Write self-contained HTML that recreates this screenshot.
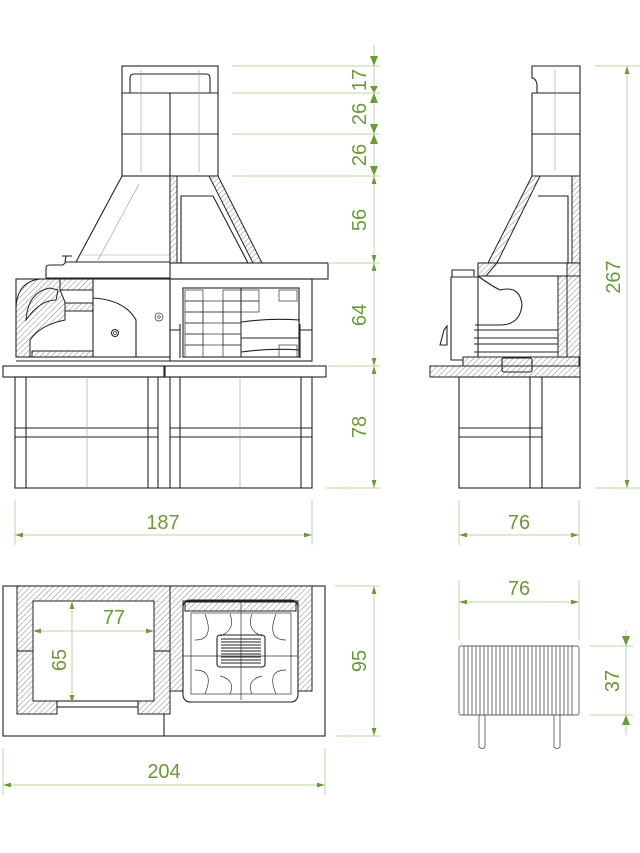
<!DOCTYPE html>
<html><head><meta charset="utf-8"><style>
html,body{margin:0;padding:0;background:#fff;}
svg{display:block;}
.k{fill:none;stroke:#222;stroke-width:1.1;}
.t{fill:none;stroke:#333;stroke-width:0.7;}
.g{fill:none;stroke:#999;stroke-width:0.6;}
.h{fill:url(#hatch);stroke:#222;stroke-width:1;}
.d{stroke:#bcd5a4;stroke-width:1;fill:none;}
.a{fill:#6a9a3a;}
text{font-family:"Liberation Sans","DejaVu Sans",sans-serif;font-size:20px;fill:#6a9a3a;}
</style></head><body>
<svg width="640" height="853" viewBox="0 0 640 853" xmlns="http://www.w3.org/2000/svg">
<defs>
<pattern id="hatch" width="4" height="4" patternUnits="userSpaceOnUse" patternTransform="rotate(45)">
<rect width="4" height="4" fill="#fff"/><line x1="0" y1="0" x2="0" y2="4" stroke="#555" stroke-width="0.7"/>
</pattern>
<marker id="ar" viewBox="0 0 10 10" refX="10" refY="5" markerWidth="8" markerHeight="8" orient="auto-start-reverse"><path d="M0,2 L10,5 L0,8z" fill="#6a9a3a"/></marker>
</defs>

<!-- ========== FRONT VIEW ========== -->
<!-- chimney -->
<rect class="k" x="122" y="66" width="96" height="110"/>
<path class="k" d="M130,93 V78 Q130,74 134,74 H206 Q210,74 210,78 V93"/>
<line class="k" x1="122" y1="93" x2="218" y2="93"/>
<line class="k" x1="122" y1="134" x2="218" y2="134"/>
<line class="k" x1="170" y1="93" x2="170" y2="263"/>
<line class="g" x1="141" y1="70" x2="141" y2="172"/>
<line class="g" x1="199" y1="70" x2="199" y2="172"/>
<!-- hood -->
<path class="k" d="M122,176 L76,262 M170,176 H122"/>
<line class="g" x1="139" y1="184" x2="98" y2="260"/>
<line class="g" x1="80" y1="255" x2="170" y2="255"/>
<rect class="h" x="170" y="176" width="7" height="87"/>
<path class="h" d="M209,176 L218,176 L262,263 L253,263 Z"/>
<path class="k" d="M181,263 V196 H213 L248,263"/>
<!-- top shelf -->
<path class="k" d="M46,278 V268 Q46,265 50,265 H63 L66,262 H170"/>
<rect class="k" x="170" y="263" width="158" height="16"/>
<line class="k" x1="46" y1="278" x2="170" y2="278"/>
<path class="k" d="M65,262 L66,256 H72 M62,256 H72"/>
<!-- oven left -->
<path class="h" d="M16,357 V310 Q16,282 40,279 H60 V290 L65,302 V320 Q40,325 30,340 V357 Z"/>
<path class="h" d="M26,320 Q28,292 50,288 L58,290 L56,300 Q40,300 26,320Z"/>
<rect class="h" x="60" y="279" width="33" height="11"/>
<rect class="h" x="65" y="303" width="28" height="8"/>
<rect class="h" x="32" y="351" width="61" height="6"/>
<rect class="k" x="16" y="279" width="154" height="78"/>
<line class="k" x1="93" y1="279" x2="93" y2="357"/>
<path class="k" d="M93,298 Q125,300 136,320 V357"/>
<circle class="k" cx="115" cy="333" r="3.5"/><circle class="t" cx="115" cy="333" r="1.5"/>
<circle class="t" cx="159" cy="317" r="4"/><circle class="t" cx="159" cy="317" r="1.3"/>
<line class="k" x1="16" y1="361" x2="170" y2="361"/>
<!-- grill right -->
<rect class="k" x="170" y="279" width="142" height="82"/>
<rect class="k" x="183" y="288" width="116" height="69"/>
<line class="k" x1="241" y1="288" x2="241" y2="357"/>
<g class="t">
<rect x="185" y="290" width="18" height="11"/><rect x="223" y="290" width="18" height="11"/><rect x="241" y="290" width="18" height="11"/><rect x="279" y="290" width="18" height="11"/>
<rect x="185" y="301" width="18" height="11"/><rect x="203" y="301" width="20" height="11"/><rect x="223" y="301" width="18" height="11"/><rect x="241" y="301" width="18" height="11"/>
<rect x="185" y="312" width="18" height="11"/><rect x="203" y="312" width="20" height="11"/><rect x="223" y="312" width="18" height="11"/>
<rect x="185" y="323" width="18" height="11"/><rect x="223" y="323" width="18" height="11"/>
<rect x="185" y="334" width="18" height="11"/><rect x="203" y="334" width="20" height="11"/><rect x="223" y="334" width="18" height="11"/>
<rect x="185" y="345" width="18" height="12"/><rect x="223" y="345" width="18" height="12"/><rect x="279" y="345" width="18" height="12"/>
</g>
<path class="k" d="M241,322 Q270,318 300,320 M241,338 H300 M241,352 Q270,348 300,350"/>
<path class="k" d="M170,330 H180 M180,324 V358 M300,324 V358 M300,330 H312"/>
<!-- slab -->
<rect class="k" x="3" y="366" width="161" height="11"/>
<rect class="k" x="165" y="366" width="161" height="11"/>
<!-- base -->
<rect class="k" x="15" y="377" width="297" height="111"/>
<g class="k">
<line x1="26" y1="377" x2="26" y2="488"/><line x1="148" y1="377" x2="148" y2="488"/><line x1="158" y1="377" x2="158" y2="488"/>
<line x1="170" y1="377" x2="170" y2="488"/><line x1="180" y1="377" x2="180" y2="488"/><line x1="301" y1="377" x2="301" y2="488"/>
<line x1="15" y1="428" x2="158" y2="428"/><line x1="15" y1="437" x2="158" y2="437"/>
<line x1="170" y1="428" x2="312" y2="428"/><line x1="170" y1="437" x2="312" y2="437"/>
</g>
<line class="g" x1="87" y1="377" x2="87" y2="488"/><line class="g" x1="240" y1="377" x2="240" y2="488"/>

<!-- front dimensions -->
<g class="d">
<line x1="232" y1="66" x2="380" y2="66"/><line x1="232" y1="93" x2="380" y2="93"/>
<line x1="232" y1="134" x2="380" y2="134"/><line x1="232" y1="176" x2="380" y2="176"/>
<line x1="328" y1="263" x2="380" y2="263"/><line x1="328" y1="366" x2="380" y2="366"/>
<line x1="326" y1="488" x2="380" y2="488"/>
<line x1="374" y1="45" x2="374" y2="488"/>
<line x1="15" y1="500" x2="15" y2="545"/><line x1="312" y1="500" x2="312" y2="545"/>
<line x1="459" y1="500" x2="459" y2="545"/><line x1="579" y1="500" x2="579" y2="545"/>
<line x1="595" y1="66" x2="640" y2="66"/><line x1="595" y1="488" x2="640" y2="488"/>
</g>
<g class="d" marker-start="url(#ar)" marker-end="url(#ar)">
<line x1="374" y1="176" x2="374" y2="263"/>
<line x1="374" y1="263" x2="374" y2="366"/>
<line x1="374" y1="366" x2="374" y2="488"/>
<line x1="15" y1="535" x2="312" y2="535"/>
<line x1="459" y1="535" x2="579" y2="535"/>
<line x1="627" y1="66" x2="627" y2="488"/>
</g>
<path class="a" d="M370,56 L378,56 L374,66Z M370,103 L378,103 L374,93Z M370,124 L378,124 L374,134Z M370,144 L378,144 L374,134Z M370,166 L378,166 L374,176Z M370,86 L378,86 L374,93Z"/>
<text transform="translate(366,80) rotate(-90)" text-anchor="middle">17</text>
<text transform="translate(366,114) rotate(-90)" text-anchor="middle">26</text>
<text transform="translate(366,155) rotate(-90)" text-anchor="middle">26</text>
<text transform="translate(366,220) rotate(-90)" text-anchor="middle">56</text>
<text transform="translate(366,315) rotate(-90)" text-anchor="middle">64</text>
<text transform="translate(366,427) rotate(-90)" text-anchor="middle">78</text>
<text x="163" y="529" text-anchor="middle">187</text>
<text x="519" y="529" text-anchor="middle">76</text>
<text transform="translate(620,277) rotate(-90)" text-anchor="middle">267</text>

<!-- ========== SIDE VIEW ========== -->
<path class="k" d="M532,66 H580 V176 H532 V93 H537 V86 Q537,80 533,78 H532Z"/>
<line class="k" x1="532" y1="134" x2="580" y2="134"/>
<line class="k" x1="532" y1="93" x2="580" y2="93"/>
<line class="g" x1="555" y1="70" x2="555" y2="170"/>
<rect class="h" x="572" y="176" width="8" height="88"/>
<path class="h" d="M532,176 L540,176 L497,263 L488,263 Z"/>
<path class="k" d="M538,196 H568 V263"/>
<rect class="k" x="478" y="263" width="102" height="13"/>
<path class="h" d="M478,263 H497 L486,276 H478Z"/>
<rect class="h" x="567" y="263" width="13" height="13"/>
<path class="k" d="M452,277 V270 H474 V276"/>
<path class="k" d="M451,277 H478 V360 H451Z"/>
<path class="k" d="M478,276 Q490,285 500,290 Q520,285 522,305 Q520,325 500,325 H475"/>
<rect class="h" x="558" y="276" width="9" height="84"/>
<rect class="h" x="567" y="276" width="13" height="90"/>
<path class="k" d="M474,330 H558 M474,338 H558 M474,344 H558 M474,352 H558"/>
<path class="k" d="M444,330 L447,326 V345 H440 Z"/>
<rect class="h" x="463" y="357" width="116" height="9"/>
<rect class="h" x="430" y="366" width="150" height="11"/>
<rect class="k" x="502" y="358" width="30" height="14" rx="2" fill="#fff"/>
<rect class="k" x="459" y="377" width="121" height="111"/>
<g class="k"><line x1="530" y1="377" x2="530" y2="488"/><line x1="542" y1="377" x2="542" y2="488"/>
<line x1="459" y1="428" x2="542" y2="428"/><line x1="459" y1="437" x2="542" y2="437"/></g>

<!-- ========== PLAN VIEW ========== -->
<rect class="k" x="3" y="586" width="322" height="150"/>
<path class="h" d="M17,586 H170 V714 H138 V701 H154 V601 H33 V701 H57 V714 H17Z"/>
<rect class="k" x="57" y="701" width="81" height="6"/>
<line class="k" x1="17" y1="651" x2="33" y2="651"/><line class="k" x1="154" y1="651" x2="170" y2="651"/>
<line class="k" x1="164" y1="714" x2="164" y2="736"/>
<path class="h" d="M170,586 H312 V691 H298 V601 H183 V691 H170Z"/>
<rect class="k" x="183" y="600" width="115" height="102" rx="7" fill="#fff"/>
<rect class="h" x="185" y="602" width="111" height="9"/>
<g class="t">
<line x1="241" y1="602" x2="241" y2="700"/><line x1="183" y1="656" x2="298" y2="656"/>
<rect x="191" y="613" width="100" height="81"/>
<path d="M205,614 Q215,640 195,640 M276,614 Q266,640 286,640 M205,694 Q215,670 195,670 M276,694 Q266,670 286,670"/>
<path d="M230,614 Q236,630 220,636 M252,614 Q246,630 262,636 M230,694 Q236,680 220,676 M252,694 Q246,680 262,676"/>
</g>
<rect class="k" x="217" y="635" width="48" height="32" rx="3"/>
<g class="k" stroke-width="0.8">
<line x1="221" y1="639" x2="261" y2="639"/><line x1="221" y1="642" x2="261" y2="642"/><line x1="221" y1="645" x2="261" y2="645"/>
<line x1="221" y1="648" x2="261" y2="648"/><line x1="221" y1="651" x2="261" y2="651"/><line x1="221" y1="654" x2="261" y2="654"/>
<line x1="221" y1="657" x2="261" y2="657"/><line x1="221" y1="660" x2="261" y2="660"/><line x1="221" y1="663" x2="261" y2="663"/>
</g>
<g class="d">
<line x1="335" y1="586" x2="380" y2="586"/><line x1="335" y1="736" x2="380" y2="736"/>
<line x1="3" y1="748" x2="3" y2="795"/><line x1="325" y1="748" x2="325" y2="795"/>
<line x1="459" y1="580" x2="459" y2="640"/><line x1="579" y1="580" x2="579" y2="640"/>
<line x1="590" y1="646" x2="633" y2="646"/><line x1="590" y1="715" x2="633" y2="715"/>
<line x1="626" y1="630" x2="626" y2="735"/>
</g>
<g class="d" marker-start="url(#ar)" marker-end="url(#ar)">
<line x1="33" y1="631" x2="154" y2="631"/>
<line x1="72" y1="601" x2="72" y2="703"/>
<line x1="374" y1="586" x2="374" y2="736"/>
<line x1="3" y1="785" x2="325" y2="785"/>
<line x1="459" y1="602" x2="579" y2="602"/>
</g>
<path class="a" d="M622,636 L630,636 L626,646Z M622,725 L630,725 L626,715Z"/>
<text x="114" y="624" text-anchor="middle">77</text>
<text transform="translate(66,660) rotate(-90)" text-anchor="middle">65</text>
<text transform="translate(366,661) rotate(-90)" text-anchor="middle">95</text>
<text x="164" y="778" text-anchor="middle">204</text>
<text x="519" y="595" text-anchor="middle">76</text>
<text transform="translate(619,681) rotate(-90)" text-anchor="middle">37</text>

<!-- grill -->
<rect class="t" x="459" y="646" width="120" height="69" rx="2" stroke="#444" stroke-width="1"/>
<g class="t" stroke="#666">
<line x1="464" y1="646" x2="464" y2="715"/><line x1="468" y1="646" x2="468" y2="715"/><line x1="472" y1="646" x2="472" y2="715"/><line x1="476" y1="646" x2="476" y2="715"/>
<line x1="480" y1="646" x2="480" y2="715"/><line x1="484" y1="646" x2="484" y2="715"/><line x1="488" y1="646" x2="488" y2="715"/><line x1="492" y1="646" x2="492" y2="715"/>
<line x1="496" y1="646" x2="496" y2="715"/><line x1="500" y1="646" x2="500" y2="715"/><line x1="504" y1="646" x2="504" y2="715"/><line x1="508" y1="646" x2="508" y2="715"/>
<line x1="512" y1="646" x2="512" y2="715"/><line x1="516" y1="646" x2="516" y2="715"/><line x1="520" y1="646" x2="520" y2="715"/><line x1="524" y1="646" x2="524" y2="715"/>
<line x1="528" y1="646" x2="528" y2="715"/><line x1="532" y1="646" x2="532" y2="715"/><line x1="536" y1="646" x2="536" y2="715"/><line x1="540" y1="646" x2="540" y2="715"/>
<line x1="544" y1="646" x2="544" y2="715"/><line x1="548" y1="646" x2="548" y2="715"/><line x1="552" y1="646" x2="552" y2="715"/><line x1="556" y1="646" x2="556" y2="715"/>
<line x1="560" y1="646" x2="560" y2="715"/><line x1="564" y1="646" x2="564" y2="715"/><line x1="568" y1="646" x2="568" y2="715"/><line x1="572" y1="646" x2="572" y2="715"/>
</g>
<path class="t" stroke="#444" d="M479,715 V747 Q482,750 485,747 V715 M554,715 V747 Q557,750 560,747 V715"/>
</svg>
</body></html>
